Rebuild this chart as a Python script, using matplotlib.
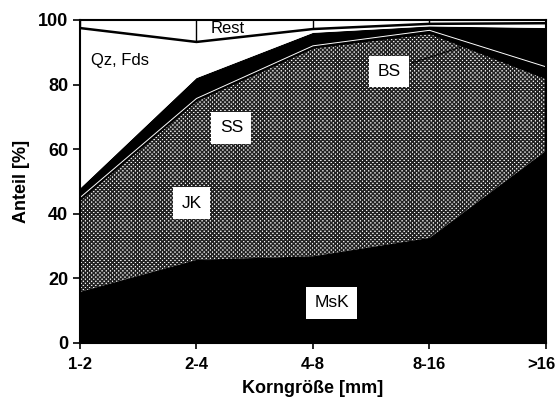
import numpy as np
import matplotlib.pyplot as plt
from matplotlib.transforms import ScaledTranslation

plt.rcParams['font.family'] = ['Liberation Sans', 'DejaVu Sans']
plt.rcParams['hatch.linewidth'] = 1.1

# Kornfraktionen und Anteile [%] (von unten nach oben gestapelt)
cats = ['1-2', '2-4', '4-8', '8-16', '>16']
msk = [15.8, 25.7, 26.8, 32.5, 59.5]
jk = [16.0, 28.0, 35.0, 35.0, 12.0]
ss = [12.7, 21.5, 29.7, 28.5, 10.5]
bs = [0.5, 0.5, 0.5, 0.8, 3.5]
sonst = [2.8, 6.3, 4.0, 1.2, 12.0]
qz_fds = [49.7, 11.2, 1.2, 0.8, 1.5]
rest = [2.5, 6.8, 2.8, 1.2, 1.0]

x = np.arange(len(cats))
c1 = np.array(msk)
c2 = c1 + np.array(jk)
c3 = c2 + np.array(ss)
c4 = c3 + np.array(bs)
c5 = c4 + np.array(sonst)
c6 = c5 + np.array(qz_fds)
c7 = c6 + np.array(rest)

fig = plt.figure(figsize=(5.58, 4.12), dpi=100)
ax = fig.add_axes([0.1434, 0.1675, 0.835, 0.784])

# JK und SS gleiche Signatur -> eine Flaeche, damit keine Naht entsteht
ax.fill_between(x, c1, c3, facecolor='white', hatch='xxxxxxxx',
                edgecolor='#222222', linewidth=0)
ax.fill_between(x, 0, c1, facecolor='black', edgecolor='black', linewidth=1.0)
ax.fill_between(x, c3, c4, facecolor='black', edgecolor='black', linewidth=1.0)
ax.fill_between(x, c4, c5, facecolor='black', edgecolor='black', linewidth=1.0)
ax.fill_between(x, c5, c6, facecolor='white', linewidth=0)
ax.fill_between(x, c6, c7, facecolor='white', linewidth=0)

# Grenzlinien
ax.plot(x, c4, color='white', lw=0.7)                # BS / darueber
ax.plot(x, c6, color='black', lw=1.8)                # Qz,Fds / Rest
ax.vlines(x, c6, c7, color='black', lw=1.0)          # Rest-Flaechenkanten

# Beschriftungen
box = dict(facecolor='white', edgecolor='none', pad=6)
ax.text(0.09, 87.5, 'Qz, Fds', fontsize=12, ha='left', va='center')
ax.text(1.12, 97.3, 'Rest', fontsize=12, ha='left', va='center')
ax.text(1.30, 66.6, 'SS', fontsize=12.5, ha='center', va='center', bbox=box)
ax.text(0.96, 43.3, 'JK', fontsize=12.5, ha='center', va='center', bbox=box)
ax.text(2.65, 84.0, 'BS', fontsize=12.5, ha='center', va='center', bbox=box)
ax.text(2.16, 12.4, 'MsK', fontsize=12.5, ha='center', va='center', bbox=box)
ax.plot([2.85, 3.33], [86.7, 92.3], color='black', lw=0.8)

ax.set_xlim(0, len(cats) - 1)
ax.set_ylim(0, 100)
ax.set_xticks(x)
ax.set_xticklabels(cats, fontsize=12, fontweight='bold')
ax.set_yticks(np.arange(0, 101, 20))
ax.tick_params(axis='y', labelsize=13, direction='out', length=5, width=1.2)
ax.tick_params(axis='x', direction='out', length=4, width=1.2, pad=6)
for lab in ax.get_yticklabels():
    lab.set_fontweight('bold')
last = ax.get_xticklabels()[-1]
last.set_transform(last.get_transform() + ScaledTranslation(-5 / 100, 0, fig.dpi_scale_trans))
for s in ax.spines.values():
    s.set_linewidth(1.5)

ax.set_xlabel('Korngröße [mm]', fontsize=13, fontweight='bold', labelpad=6)
ax.set_ylabel('Anteil [%]', fontsize=13, fontweight='bold', labelpad=6)

fig.savefig('out.png', dpi=100)
